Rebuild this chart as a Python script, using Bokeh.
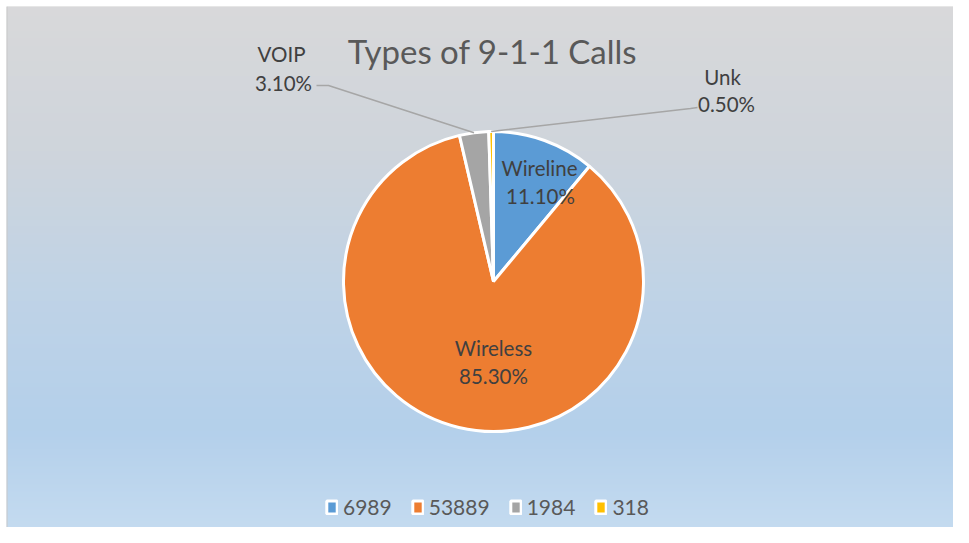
import numpy as np
from bokeh.plotting import figure
from bokeh.models import Range1d, Legend, LegendItem, ColumnDataSource
from bokeh.core.properties import value
from bokeh.embed import file_html
from bokeh.resources import INLINE

# ---- data ----
names = ["Wireline", "Wireless", "VOIP", "Unk"]
counts = [6989, 53889, 1984, 318]
percents = [11.1, 85.3, 3.1, 0.5]
colors = ["#5B9BD5", "#ED7D31", "#A5A5A5", "#FFC000"]
title_text = "Types of 9-1-1 Calls"

W, H = 953, 527
B = 6  # white border left/top
FONT = "Lato"

def X(x):  # screen x -> data
    return x

def Y(y):  # screen y -> data (y up)
    return H - y

p = figure(width=W, height=H, output_backend="svg", toolbar_location=None,
           x_axis_type=None, y_axis_type=None,
           x_range=Range1d(B, W), y_range=Range1d(0, H - B),
           min_border=0, min_border_left=B, min_border_right=0,
           min_border_top=B, min_border_bottom=0)
p.outline_line_color = None
p.grid.visible = False
p.background_fill_color = "#D8D8D8"
p.border_fill_color = "#FFFFFF"

# ---- background gradient (decoration) ----
stops_y = [0, 150, 300, 430, 543]
stops_c = np.array([[217, 217, 218], [207, 213, 220], [191, 211, 231],
                    [180, 208, 235], [199, 221, 241]], dtype=float)
FH = H - B
ys = B + np.arange(FH)[::-1]  # image row 0 is at bottom
rows = np.zeros((FH, 1), dtype=np.uint32)
view = rows.view(dtype=np.uint8).reshape((FH, 1, 4))
for ch in range(3):
    view[:, 0, ch] = np.interp(ys, stops_y, stops_c[:, ch]).astype(np.uint8)
view[:, 0, 3] = 255
img = np.repeat(rows, 4, axis=1)
p.image_rgba(image=[img], x=B, y=0, dw=W - B, dh=FH)
p.line(x=[B + 0.5, B + 0.5], y=[0, H - B], line_color="#C8C8C8", line_width=1)

# ---- pie ----
cx, cy, R = X(493), Y(281), 150
tot = float(sum(counts))
frac = np.array(counts) / tot
cum = np.concatenate([[0], np.cumsum(frac)])
start = np.pi / 2 - 2 * np.pi * cum[1:]
end = np.pi / 2 - 2 * np.pi * cum[:-1]
mid = (start + end) / 2

src = ColumnDataSource(dict(start=start, end=end, color=colors,
                            label=[str(c) for c in counts]))
r = p.wedge(x=cx, y=cy, radius=R, radius_units="screen",
            start_angle="start", end_angle="end", source=src,
            fill_color="color", line_color="white", line_width=3)

# ---- data labels ----
lbl_pct = ["%.2f%%" % v for v in percents]
name_pos = [(539, 167), (493, 347), (281, 53), (722, 76)]
pct_pos = [(540, 195), (493, 375), (283, 82), (726, 103)]
p.text(x=[X(a) for a, b in name_pos], y=[Y(b) for a, b in name_pos], text=names,
       text_font=value(FONT), text_font_size="20.5px", text_color="#404040",
       text_align="center", text_baseline="middle")
p.text(x=[X(a) for a, b in pct_pos], y=[Y(b) for a, b in pct_pos], text=lbl_pct,
       text_font=value(FONT), text_font_size="20.5px", text_color="#404040",
       text_align="center", text_baseline="middle")

# leader lines for small slices
ex = cx + R * np.cos(mid)
ey = cy + R * np.sin(mid)
p.line(x=[X(316), X(328), ex[2]], y=[Y(85), Y(85), ey[2]],
       line_color="#A6A6A6", line_width=1.5)
p.line(x=[X(697), X(690), ex[3]], y=[Y(107), Y(108), ey[3]],
       line_color="#A6A6A6", line_width=1.5)

# ---- title ----
p.text(x=[X(492)], y=[Y(50)], text=[title_text], text_font=value(FONT),
       text_font_size="33px", text_color="#595959",
       text_align="center", text_baseline="middle")

# ---- legend ----
items = [LegendItem(label=str(counts[i]), renderers=[r], index=i) for i in range(len(counts))]
leg = Legend(items=items, orientation="horizontal", location=(319, 8),
             label_text_font=FONT, label_text_font_size="21px",
             label_text_color="#595959", glyph_width=13, glyph_height=16,
             label_standoff=5, spacing=19, padding=0, margin=0,
             background_fill_alpha=0, border_line_alpha=0)
p.add_layout(leg, "center")

open("out.html", "w").write(file_html(p, INLINE))
